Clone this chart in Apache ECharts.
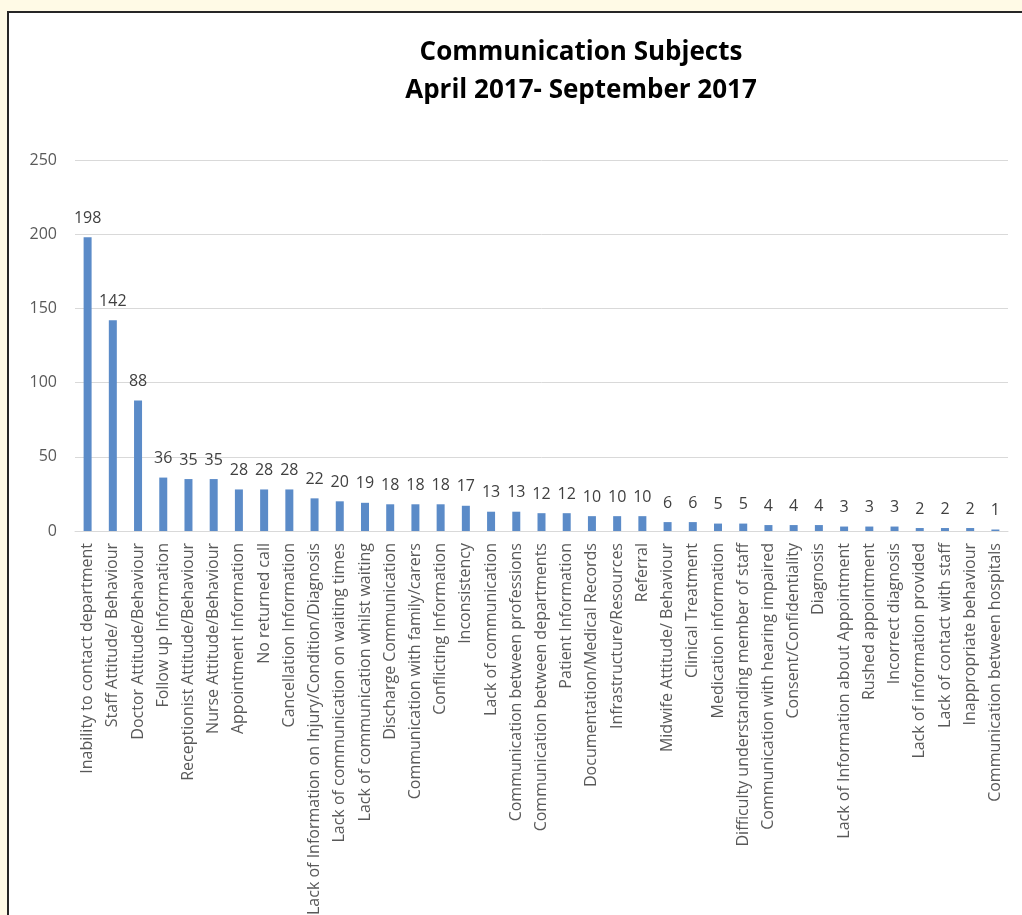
<!DOCTYPE html>
<html>
<head>
<meta charset="utf-8">
<script src="https://cdn.jsdelivr.net/npm/echarts@6/dist/echarts.min.js"></script>
<style>
html,body{margin:0;padding:0;background:#FFFAE6;}
#chart{width:1022px;height:915px;}
</style>
</head>
<body>
<div id="chart"></div>
<script>
const categories = [
"Inability to contact department","Staff Attitude/ Behaviour","Doctor Attitude/Behaviour","Follow up Information",
"Receptionist Attitude/Behaviour","Nurse Attitude/Behaviour","Appointment Information","No returned call",
"Cancellation Information","Lack of Information on Injury/Condition/Diagnosis","Lack of communication on waiting times",
"Lack of communication whilst waiting","Discharge Communication","Communication with family/carers",
"Conflicting Information","Inconsistency","Lack of communication","Communication between professions",
"Communication between departments","Patient Information","Documentation/Medical Records","Infrastructure/Resources",
"Referral","Midwife Attitude/ Behaviour","Clinical Treatment","Medication information",
"Difficulty understanding member of staff","Communication with hearing impaired","Consent/Confidentiality","Diagnosis",
"Lack of Information about Appointment","Rushed appointment","Incorrect diagnosis","Lack of information provided",
"Lack of contact with staff","Inappropriate behaviour","Communication between hospitals"
];
const values = [198,142,88,36,35,35,28,28,28,22,20,19,18,18,18,17,13,13,12,12,10,10,10,6,6,5,5,4,4,4,3,3,3,2,2,2,1];
const titleLines = ["Communication Subjects","April 2017- September 2017"];

const chart = echarts.init(document.getElementById('chart'));
chart.setOption({
  backgroundColor: '#FFFAE6',
  animation: false,
  graphic: [{
    type: 'rect', left: 7, top: 11, z: -10,
    shape: {width: 1040, height: 940},
    style: {fill: '#ffffff', stroke: '#262626', lineWidth: 2}
  }],
  title: {
    text: titleLines.join('\n'),
    left: 576, top: 29, textAlign: 'center',
    textStyle: {fontFamily: 'Open Sans', fontWeight: 'bold', fontSize: 26, color: '#000', lineHeight: 38}
  },
  grid: {left: 75, right: 14, top: 160, bottom: 384, containLabel: false, outerBoundsMode: 'none'},
  xAxis: {
    type: 'category', data: categories,
    axisLine: {show: true, lineStyle: {color: '#d9d9d9'}},
    axisTick: {show: false},
    axisLabel: {rotate: 90, interval: 0, margin: 12, color: '#595959', fontFamily: 'Open Sans', fontSize: 16}
  },
  yAxis: {
    type: 'value', min: 0, max: 250, interval: 50,
    axisLine: {show: false}, axisTick: {show: false},
    splitLine: {lineStyle: {color: '#d9d9d9'}},
    axisLabel: {margin: 18, color: '#595959', fontFamily: 'Open Sans', fontSize: 16}
  },
  series: [{
    type: 'bar', data: values, barWidth: 8,
    itemStyle: {color: '#5B8BC8'},
    label: {show: true, position: 'top', distance: 11, color: '#404040', fontFamily: 'Open Sans', fontSize: 16}
  }]
});
</script>
</body>
</html>
